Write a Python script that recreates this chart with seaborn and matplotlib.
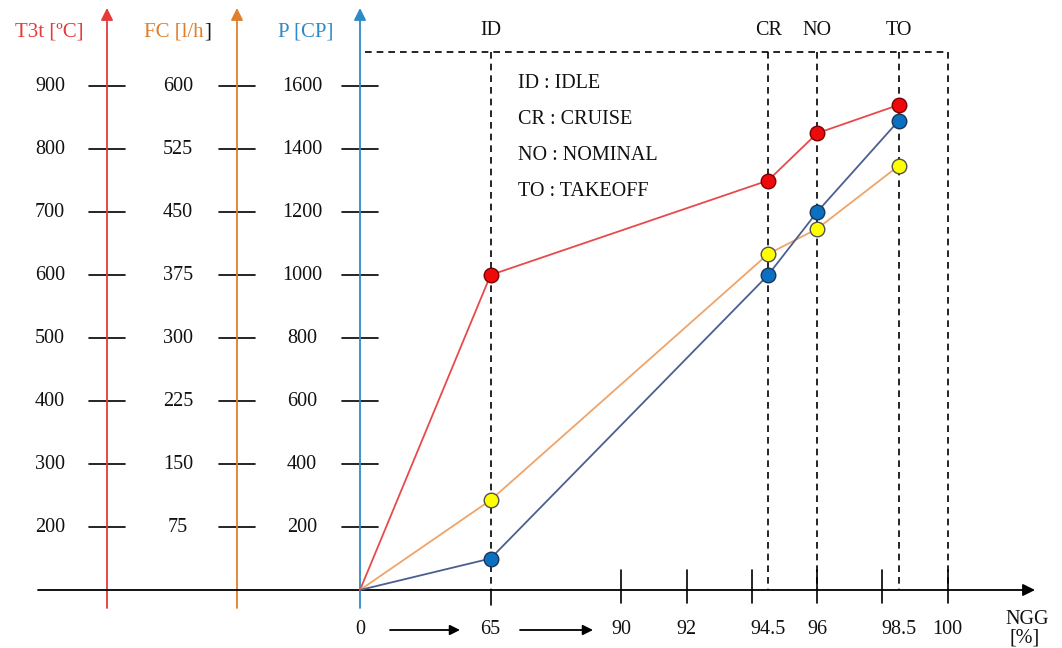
import numpy as np
import pandas as pd
import matplotlib
matplotlib.use("Agg")
import matplotlib.pyplot as plt
import seaborn as sns

# ---- data -------------------------------------------------------------
modes = ["ID", "CR", "NO", "TO"]
mode_names = ["IDLE", "CRUISE", "NOMINAL", "TAKEOFF"]
ngg = [65, 94.5, 96, 98.5]                 # gas generator speed [%]
t3t = [600, 750, 825, 870]                 # T3t [ºC]
fc = [107, 400, 430, 505]                  # fuel consumption [l/h]
power = [100, 1000, 1200, 1490]            # power [CP]

ngg_labels = [0, 65, 90, 92, 94.5, 96, 98.5, 100]
t3t_ticks = [200, 300, 400, 500, 600, 700, 800, 900]
fc_ticks = [75, 150, 225, 300, 375, 450, 525, 600]
p_ticks = [200, 400, 600, 800, 1000, 1200, 1400, 1600]

# ---- scales -------------------------------------------------------------
# broken NGG axis: each label gets a slot position along the horizontal axis
NGG_KNOTS = [0, 65, 90, 92, 94.5, 96, 98.5, 100]
SLOT_KNOTS = [0, 2, 4, 5, 6.25, 7, 8.25, 9]


def ngg_pos(v):
    return np.interp(v, NGG_KNOTS, SLOT_KNOTS)


# every vertical scale is expressed on the power axis (CP)
def t3t_level(t):
    return (np.asarray(t, float) - 100.0) * 2.0


def fc_level(f):
    return np.asarray(f, float) / 0.375


# figure geometry (pixel layout of the drawing)
W, H, DPI = 1062, 648, 100
X0, Y0 = 360.0, 590.0          # origin in pixels
SLOT = 65.3                    # pixels per slot
KY = 504.0 / 1600.0            # pixels per CP


def px_x(px):
    return (px - X0) / SLOT


def px_y(py):
    return (Y0 - py) / KY


sns.set_style("white")
plt.rcParams["font.family"] = ["Liberation Serif", "DejaVu Serif"]
FS = 14.5

fig = plt.figure(figsize=(W / DPI, H / DPI), dpi=DPI)
ax = fig.add_axes([0, 0, 1, 1])
ax.set_xlim(px_x(0), px_x(W))
ax.set_ylim(px_y(H), px_y(0))
ax.axis("off")

RED_AX, ORA_AX, BLU_AX = "#e53a3a", "#e07f2c", "#2e8ac6"
RED_LN, ORA_LN, BLU_LN = "#e84a4c", "#efa46a", "#4b5f8f"
RED_MK, YEL_MK, BLU_MK = "#ee0a0a", "#ffff00", "#0a70bf"

# ---- vertical axes with arrows and cross ticks --------------------------
axes_spec = [
    (107, RED_AX, t3t_level(t3t_ticks), t3t_ticks, 50),
    (237, ORA_AX, fc_level(fc_ticks), fc_ticks, 178),
    (360, BLU_AX, np.asarray(p_ticks, float), p_ticks, 302),
]
for xpx, col, levels, labels, lab_px in axes_spec:
    ax.annotate("", xy=(px_x(xpx), px_y(8)), xytext=(px_x(xpx), px_y(608)),
                arrowprops=dict(arrowstyle="-|>", color=col, lw=1.3,
                                mutation_scale=18, shrinkA=0, shrinkB=0))
    for lv, lb in zip(levels, labels):
        ax.plot([px_x(xpx - 18), px_x(xpx + 18)], [lv, lv], color="black",
                lw=1.2, zorder=2)
        ax.text(px_x(lab_px), lv, f"{lb:g}", ha="center", va="center",
                fontsize=FS, color="#111111")

# axis titles
ax.text(px_x(49), px_y(32), "T3t [ºC]", ha="center", va="center",
        fontsize=FS + 0.5, color=RED_AX)
ax.text(px_x(204), px_y(32), "FC [l/h", ha="right", va="center",
        fontsize=FS + 0.5, color=ORA_AX)
ax.text(px_x(204), px_y(32), "]", ha="left", va="center",
        fontsize=FS + 0.5, color="#111111")
ax.text(px_x(306), px_y(32), "P [CP]", ha="center", va="center",
        fontsize=FS + 0.5, color=BLU_AX)

# ---- horizontal NGG axis ------------------------------------------------
ax.annotate("", xy=(px_x(1035), 0), xytext=(px_x(38), 0),
            arrowprops=dict(arrowstyle="-|>", color="black", lw=1.3,
                            mutation_scale=18, shrinkA=0, shrinkB=0))
for s in [4, 5, 6, 7, 8, 9]:
    ax.plot([s, s], [px_y(570), px_y(603)], color="black", lw=1.2, zorder=2)
ax.plot([2, 2], [0, px_y(605)], color="black", lw=1.2, zorder=2)

for v in ngg_labels:
    ax.text(ngg_pos(v), px_y(630), f"{v:g}", ha="center", va="center",
            fontsize=FS, color="#111111")
ax.text(px_x(1027), px_y(620), "NGG", ha="center", va="center",
        fontsize=FS, color="#111111")
ax.text(px_x(1025), px_y(638), "[%]", ha="center", va="center",
        fontsize=FS, color="#111111")
for a, b in [(390, 460), (520, 593)]:
    ax.annotate("", xy=(px_x(b), px_y(630)), xytext=(px_x(a), px_y(630)),
                arrowprops=dict(arrowstyle="-|>", color="black", lw=1.3,
                                mutation_scale=15, shrinkA=0, shrinkB=0))

# ---- dashed frame and operating-point guides ----------------------------
dash = dict(color="black", lw=1.2, ls=(0, (4, 3)), zorder=1)
top = px_y(52)
right = ngg_pos(100)
ax.plot([px_x(365), right], [top, top], **dash)
ax.plot([right, right], [top, 0], **dash)
for m, v in zip(modes, ngg):
    x = ngg_pos(v)
    ax.plot([x, x], [top, 0], **dash)
    ax.text(x, px_y(30), m, ha="center", va="center", fontsize=FS,
            color="#111111")

# mode legend
for i, (m, n) in enumerate(zip(modes, mode_names)):
    ax.text(px_x(518), px_y(83 + i * 36), f"{m} : {n}", ha="left",
            va="center", fontsize=FS, color="#111111")

# ---- series -------------------------------------------------------------
series = [("T3t", t3t_level(t3t), RED_LN, RED_MK, "#7a0000"),
          ("FC", fc_level(fc), ORA_LN, YEL_MK, "#505050"),
          ("P", np.asarray(power, float), BLU_LN, BLU_MK, "#1b3558")]

rows = []
for name, lv, *_ in series:
    rows.append(dict(series=name, pos=0.0, level=0.0, order=0))
    for k, (v, y) in enumerate(zip(ngg, lv)):
        rows.append(dict(series=name, pos=float(ngg_pos(v)), level=float(y),
                         order=k + 1))
df = pd.DataFrame(rows)

sns.lineplot(data=df, x="pos", y="level", hue="series", units="series",
             estimator=None, sort=False,
             palette={s[0]: s[2] for s in series}, lw=1.3, legend=False,
             ax=ax, zorder=3)
for name, lv, lcol, mcol, ecol in series:
    sub = df[(df.series == name) & (df.order > 0)]
    sns.scatterplot(data=sub, x="pos", y="level", color=mcol, s=110,
                    edgecolor=ecol, linewidth=1.0, legend=False, ax=ax,
                    zorder=4)

ax.set_xlim(px_x(0), px_x(W))
ax.set_ylim(px_y(H), px_y(0))
ax.axis("off")
fig.savefig("out.png", dpi=DPI)
